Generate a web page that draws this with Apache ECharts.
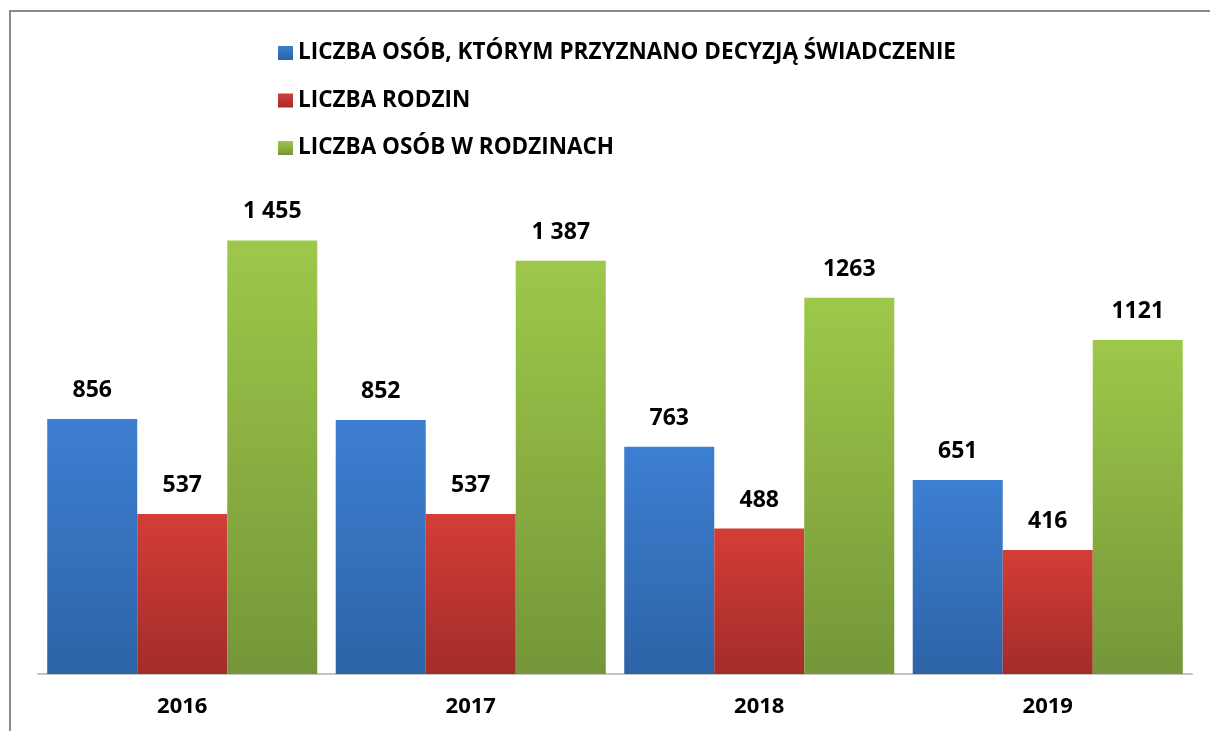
<!DOCTYPE html>
<html>
<head>
<meta charset="utf-8">
<script src="https://cdn.jsdelivr.net/npm/echarts@6/dist/echarts.min.js"></script>
<style>
  html, body { margin: 0; padding: 0; background: #fff; }
  #frame { position: absolute; left: 9px; top: 10px; width: 1201px; height: 721px;
           border-left: 2px solid #8a8a8a; border-top: 2px solid #8a8a8a; box-sizing: border-box; }
  #chart { position: absolute; left: 0; top: 0; width: 1210px; height: 731px; }
</style>
</head>
<body>
<div id="frame"></div>
<div id="chart"></div>
<script>
const categories = ['2016', '2017', '2018', '2019'];
const seriesNames = [
  'LICZBA OSÓB, KTÓRYM PRZYZNANO DECYZJĄ ŚWIADCZENIE',
  'LICZBA RODZIN',
  'LICZBA OSÓB W RODZINACH'
];
const osobyPrzyznano = [856, 852, 763, 651];
const rodziny = [537, 537, 488, 416];
const osobyWRodzinach = [1455, 1387, 1263, 1121];
const osobyPrzyznanoLabels = ['856', '852', '763', '651'];
const rodzinyLabels = ['537', '537', '488', '416'];
const osobyWRodzinachLabels = ['1 455', '1 387', '1263', '1121'];

const FONT = '"Open Sans", "DejaVu Sans", sans-serif';

function grad(top, bottom) {
  return new echarts.graphic.LinearGradient(0, 0, 0, 1, [
    { offset: 0, color: top },
    { offset: 1, color: bottom }
  ]);
}

function mkSeries(name, data, labels, cTop, cBot) {
  return {
    name: name,
    type: 'bar',
    data: data,
    barGap: '0%',
    barCategoryGap: '6.4%',
    itemStyle: { color: grad(cTop, cBot) },
    label: {
      show: true,
      position: 'top',
      distance: 17,
      formatter: p => labels[p.dataIndex],
      fontFamily: FONT,
      fontWeight: 'bold',
      fontSize: 23,
      color: '#000'
    }
  };
}

const chart = echarts.init(document.getElementById('chart'), null, { renderer: 'canvas' });
chart.setOption({
  backgroundColor: 'transparent',
  animation: false,
  legend: {
    orient: 'vertical',
    left: 278,
    top: 41,
    padding: 0,
    itemWidth: 15,
    itemHeight: 14,
    itemGap: 23.5,
    icon: 'rect',
    textStyle: { fontFamily: FONT, fontWeight: 'bold', fontSize: 22.5, color: '#000', lineHeight: 24 },
    data: seriesNames
  },
  grid: { left: 38, right: 18, top: 227, bottom: 57, containLabel: false },
  xAxis: {
    type: 'category',
    data: categories,
    axisLine: { show: true, lineStyle: { color: '#c4c4c4', width: 2 } },
    axisTick: { show: false },
    axisLabel: { margin: 22, fontFamily: FONT, fontWeight: 'bold', fontSize: 22, color: '#000' }
  },
  yAxis: {
    type: 'value',
    min: 0,
    max: 1500,
    interval: 500,
    show: false,
    splitLine: { show: false }
  },
  series: [
    mkSeries(seriesNames[0], osobyPrzyznano, osobyPrzyznanoLabels, '#3d7fd2', '#2d63a6'),
    mkSeries(seriesNames[1], rodziny, rodzinyLabels, '#d43d38', '#a32c29'),
    mkSeries(seriesNames[2], osobyWRodzinach, osobyWRodzinachLabels, '#9dc84a', '#759639')
  ]
});
</script>
</body>
</html>
